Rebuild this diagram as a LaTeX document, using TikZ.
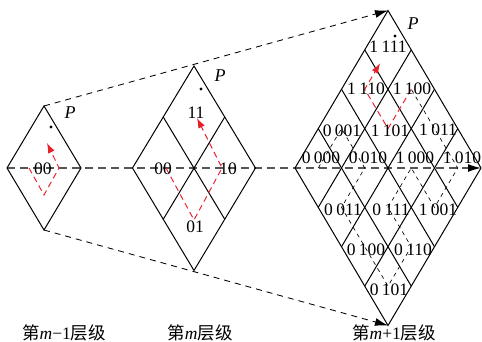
\documentclass[tikz,border=0pt]{standalone}
\usepackage{fontspec}
\setmainfont{Liberation Serif}
\newfontfamily\cjk{Noto Sans CJK SC}
\usetikzlibrary{arrows.meta,calc}
\definecolor{hred}{RGB}{232,30,40}
\definecolor{midgray}{RGB}{85,85,85}
\newcommand{\gsp}{\hspace{0.2em}}
\begin{document}
\begin{tikzpicture}[x=1pt,y=-1pt,
  edge/.style={line width=1pt,black,line join=miter},
  gridline/.style={line width=1pt,black},
  guide/.style={dash pattern=on 6pt off 5pt,line width=0.85pt,-{Latex[length=13pt,width=8pt]}},
  midline/.style={dash pattern=on 8pt off 5pt,line width=1.2pt,draw=midgray,-{Latex[length=13pt,width=8pt,color=black]}},
  redpath/.style={hred,dash pattern=on 6pt off 4pt,line width=0.95pt,-{Latex[length=10pt,width=7pt]}},
  hpath/.style={black,dash pattern=on 4pt off 4pt,line width=0.65pt},
  lab/.style={font=\fontsize{17.5}{17.5}\selectfont,inner sep=0pt},
  captext/.style={font=\fontsize{17.5}{17.5}\selectfont,inner sep=0pt},
  plab/.style={font=\fontsize{18}{18}\selectfont\itshape,inner sep=0pt},
  dotmark/.style={circle,fill=black,inner sep=0pt,minimum size=3.2pt}]
\useasboundingbox (0,0) rectangle (482,342);
% vertices
\coordinate (LT) at (44,106);   \coordinate (LL) at (7,168);
\coordinate (LR) at (81,168);   \coordinate (LB) at (44,230);
\coordinate (MT) at (194,66);   \coordinate (ML) at (132.5,168);
\coordinate (MR) at (255.5,168);\coordinate (MB) at (194,270.5);
\coordinate (RT) at (388,10.5); \coordinate (RL) at (295,168);
\coordinate (RR) at (481,168);  \coordinate (RB) at (388,325.5);
% midline and guides
\draw[midline] (LL) -- (RR);
\draw[guide] (LT) -- (RT);
\draw[guide] (LB) -- (RB);
% diamonds
\draw[edge] (LT) -- (LR) -- (LB) -- (LL) -- cycle;
\draw[edge] (MT) -- (MR) -- (MB) -- (ML) -- cycle;
\draw[gridline] ($(MT)!.5!(ML)$) -- ($(MR)!.5!(MB)$);
\draw[gridline] ($(MT)!.5!(MR)$) -- ($(ML)!.5!(MB)$);
\draw[edge] (RT) -- (RR) -- (RB) -- (RL) -- cycle;
\foreach \k in {0.25,0.5,0.75}{
  \draw[gridline] ($(RT)!\k!(RL)$) -- ($(RR)!\k!(RB)$);
  \draw[gridline] ($(RT)!\k!(RR)$) -- ($(RL)!\k!(RB)$);
}
% left red path
\coordinate (l1) at (29,168); \coordinate (l2) at (44,195);
\coordinate (l3) at (59,168); \coordinate (l4) at (47,143);
\draw[redpath] (l1) -- (l2) -- (l3) -- (l4);
% middle red path
\coordinate (m1) at (166,168); \coordinate (m2) at (194,220);
\coordinate (m3) at (222,168); \coordinate (m4) at (197,118);
\draw[redpath] (m1) -- (m2) -- (m3) -- (m4);
% right cell centres
\coordinate (p1111) at (388,49.9);
\coordinate (p1110) at (364.75,89.25);  \coordinate (p1100) at (411.25,89.25);
\coordinate (p0001) at (341.5,128.6);   \coordinate (p1101) at (388,128.6);
\coordinate (p1011) at (434.5,128.6);
\coordinate (p0000) at (318.25,168);    \coordinate (p0010) at (364.75,168);
\coordinate (p1000) at (411.25,168);    \coordinate (p1010) at (457.75,168);
\coordinate (p0011) at (341.5,207.4);   \coordinate (p0111) at (388,207.4);
\coordinate (p1001) at (434.5,207.4);
\coordinate (p0100) at (364.75,246.75); \coordinate (p0110) at (411.25,246.75);
\coordinate (p0101) at (388,286.1);
\draw[hpath] (p0000) -- (p0001) -- (p0010) -- (p0011) -- (p0100) -- (p0101)
  -- (p0110) -- (p0111) -- (p1000) -- (p1001) -- (p1010) -- (p1011) -- (p1100);
\draw[redpath] (p1100) -- (p1101) -- (p1110) -- ($(p1110)!0.66!(p1111)$);
% labels left
\node[lab] (a00) at (43,169) {00};
% labels middle
\node[lab] (b00) at (163,169) {00};
\node[lab] (b10) at (228,169) {10};
\node[lab] (b01) at (195,227) {01};
\node[lab] (b11) at (196,113) {11};
% labels right
\node[lab] (c1111) at (388,47) {1\gsp111};
\node[lab] (c1110) at (366,89) {1\gsp110};
\node[lab] (c1100) at (412,89) {1\gsp100};
\node[lab] (c0001) at (342,131) {0\gsp001};
\node[lab] (c1101) at (390,131) {1\gsp101};
\node[lab] (c1011) at (438,130) {1\gsp011};
\node[lab] (c0000) at (321,158) {0\gsp000};
\node[lab] (c0010) at (368,158) {0\gsp010};
\node[lab] (c1000) at (415,158) {1\gsp000};
\node[lab] (c1010) at (462,158) {1\gsp010};
\node[lab] (c0011) at (343,210) {0\gsp011};
\node[lab] (c0111) at (391,210) {0\gsp111};
\node[lab] (c1001) at (438,210) {1\gsp001};
\node[lab] (c0100) at (366,250) {0\gsp100};
\node[lab] (c0110) at (413,250) {0\gsp110};
\node[lab] (c0101) at (389,290) {0\gsp101};
% P marks
\node[plab] (PL) at (70,113) {P};
\node[dotmark] (dL) at (51,127) {};
\node[plab] (PM) at (220,76) {P};
\node[dotmark] (dM) at (201,89) {};
\node[plab] (PR) at (413,24) {P};
\node[dotmark] (dR) at (395,36) {};
% captions
\node[captext] (t1) at (64,333) {{\cjk 第}\textit{m}−1{\cjk 层级}};
\node[captext] (t2) at (200,333) {{\cjk 第}\textit{m}{\cjk 层级}};
\node[captext] (t3) at (394,333) {{\cjk 第}\textit{m}+1{\cjk 层级}};
\end{tikzpicture}
\end{document}
